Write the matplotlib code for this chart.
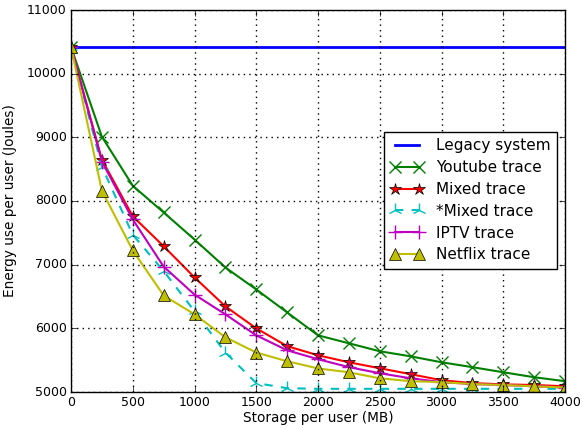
import matplotlib
matplotlib.use("Agg")
import matplotlib.pyplot as plt

plt.style.use('classic')

storage = [0, 250, 500, 750, 1000, 1250, 1500, 1750, 2000, 2250, 2500, 2750, 3000, 3250, 3500, 3750, 4000]
legacy = [10420] * len(storage)
youtube = [10420, 9010, 8240, 7820, 7395, 6956, 6611, 6250, 5890, 5765, 5640, 5560, 5467, 5390, 5310, 5232, 5170]
mixed = [10420, 8650, 7760, 7290, 6800, 6345, 6000, 5720, 5577, 5467, 5373, 5280, 5185, 5140, 5120, 5110, 5090]
mixed_star = [10420, 8540, 7470, 6900, 6270, 5620, 5140, 5060, 5050, 5050, 5050, 5050, 5050, 5050, 5050, 5050, 5050]
iptv = [10420, 8620, 7710, 6970, 6530, 6220, 5890, 5655, 5515, 5390, 5295, 5215, 5155, 5125, 5110, 5090, 5070]
netflix = [10420, 8163, 7223, 6517, 6220, 5860, 5620, 5483, 5370, 5310, 5215, 5170, 5155, 5125, 5110, 5090, 5070]

fig = plt.figure(figsize=(5.82, 4.29), dpi=100)
fig.patch.set_facecolor('white')
ax = fig.add_axes([71/582, 1 - 392/429, (565 - 71)/582, (392 - 10)/429])

ax.plot(storage, legacy, color='b', lw=2, label='Legacy system')
ax.plot(storage, youtube, color='g', lw=1.5, marker='x', ms=8, mew=1, mec='g', label='Youtube trace')
ax.plot(storage, mixed, color='r', lw=1.5, marker='*', ms=9, mec='k', mfc='r', label='Mixed trace')
ax.plot(storage, mixed_star, color='c', lw=1.5, ls='--', marker='2', ms=10, mew=1, mec='c', label='*Mixed trace')
ax.plot(storage, iptv, color='m', lw=1.5, marker='+', ms=10, mew=1, mec='m', label='IPTV trace')
ax.plot(storage, netflix, color='y', lw=1.5, marker='^', ms=8, mec='k', mfc='y', label='Netflix trace')

ax.set_xlim(0, 4000)
ax.set_ylim(5000, 11000)
ax.set_xticks(range(0, 4001, 500))
ax.set_yticks(range(5000, 11001, 1000))
ax.grid(True, color='k', ls=':', lw=1)
ax.tick_params(labelsize=9, pad=3)
ax.set_xlabel('Storage per user (MB)', fontsize=9.8)
ax.set_ylabel('Energy use per user (Joules)', fontsize=9.8)
ax.xaxis.set_label_coords(0.5, -0.05)
ax.yaxis.set_label_coords(-0.11, 0.5)

leg = ax.legend(loc='upper right', bbox_to_anchor=(557/582, 1 - 132/429), bbox_transform=fig.transFigure,
                borderaxespad=0, fontsize=11, numpoints=2, handlelength=2.2, labelspacing=0.45)
leg.get_frame().set_linewidth(1)

fig.savefig('out.png', dpi=100, facecolor='white')
